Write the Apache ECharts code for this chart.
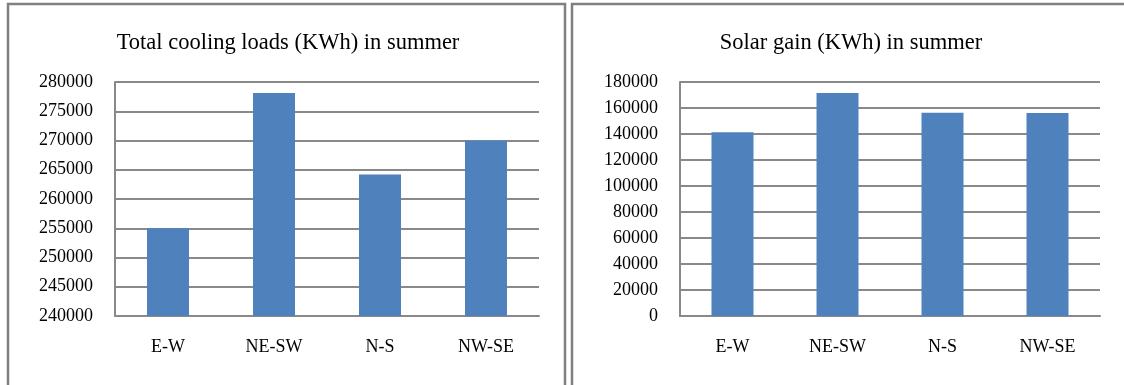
<!DOCTYPE html>
<html>
<head>
<meta charset="utf-8">
<script src="https://cdn.jsdelivr.net/npm/echarts@6/dist/echarts.min.js"></script>
<style>
  html, body { margin: 0; padding: 0; background: #fff; }
  #chart { width: 1124px; height: 385px; }
</style>
</head>
<body>
<div id="chart"></div>
<script>
// orientations shared by both panels
var orientations = ["E-W", "NE-SW", "N-S", "NW-SE"];
// left panel: total cooling loads (KWh)
var coolingLoads = [255000, 278100, 264200, 270000];
// right panel: solar gain (KWh)
var solarGain = [141400, 171500, 156300, 156200];

var titleCooling = "Total cooling loads (KWh) in summer";
var titleSolar = "Solar gain (KWh) in summer";

var serif = "'Liberation Serif', 'Times New Roman', serif";
var gridColor = "#898989";
var barColor = "#4F81BD";

function catAxis(idx) {
  return {
    type: "category",
    gridIndex: idx,
    data: orientations,
    axisLine: { lineStyle: { color: gridColor, width: 2 } },
    axisTick: { show: false },
    axisLabel: { color: "#000", fontFamily: serif, fontSize: 18, margin: 22 }
  };
}

function valAxis(idx, min, max, step) {
  return {
    type: "value",
    gridIndex: idx,
    min: min,
    max: max,
    interval: step,
    axisLine: { show: true, lineStyle: { color: gridColor, width: 2 } },
    axisTick: { show: false },
    splitLine: { lineStyle: { color: gridColor, width: 2 } },
    axisLabel: {
      color: "#000", fontFamily: serif, fontSize: 18, margin: 22,
      formatter: function (v) { return String(v); }
    }
  };
}

var option = {
  animation: false,
  backgroundColor: "#fff",
  title: [
    { text: titleCooling, left: 283, top: 27, textAlign: "center",
      textStyle: { fontFamily: serif, fontSize: 22.5, fontWeight: "normal", color: "#000" } },
    { text: titleSolar, left: 846, top: 27, textAlign: "center",
      textStyle: { fontFamily: serif, fontSize: 22.5, fontWeight: "normal", color: "#000" } }
  ],
  grid: [
    { left: 115, right: 585, top: 82, bottom: 69 },
    { left: 680, right: 24, top: 82, bottom: 69 }
  ],
  xAxis: [catAxis(0), catAxis(1)],
  yAxis: [valAxis(0, 240000, 280000, 5000), valAxis(1, 0, 180000, 20000)],
  series: [
    { type: "bar", xAxisIndex: 0, yAxisIndex: 0, data: coolingLoads,
      barWidth: 42, itemStyle: { color: barColor } },
    { type: "bar", xAxisIndex: 1, yAxisIndex: 1, data: solarGain,
      barWidth: 42, itemStyle: { color: barColor } }
  ],
  graphic: [
    { type: "rect", shape: { x: 8, y: 4, width: 557, height: 400 },
      style: { fill: null, stroke: "#808080", lineWidth: 2.5 } },
    { type: "rect", shape: { x: 572, y: 4, width: 560, height: 400 },
      style: { fill: null, stroke: "#808080", lineWidth: 2.5 } }
  ]
};

var myChart = echarts.init(document.getElementById("chart"), null, { renderer: "canvas" });
myChart.setOption(option);
</script>
</body>
</html>
